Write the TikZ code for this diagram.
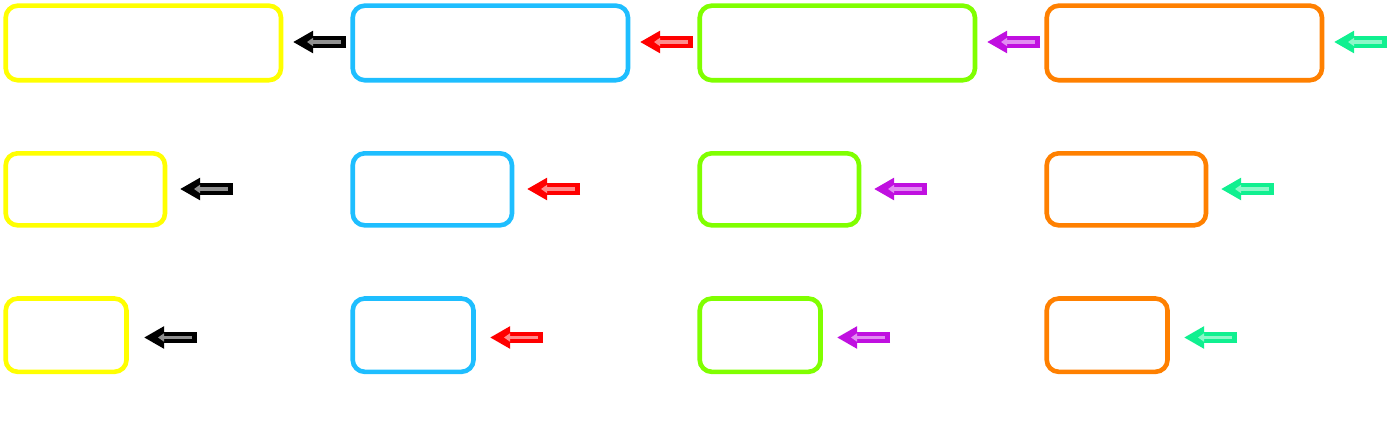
\documentclass[tikz,border=0pt]{standalone}
\usetikzlibrary{arrows.meta,calc}
\definecolor{cyel}{HTML}{FFFF00}
\definecolor{cblu}{HTML}{1EBEFF}
\definecolor{cgrn}{HTML}{80FF00}
\definecolor{corg}{HTML}{FF8000}
\definecolor{ablk}{HTML}{000000}
\definecolor{ablkL}{HTML}{909090}
\definecolor{ared}{HTML}{FF0000}
\definecolor{aredL}{HTML}{FF8C8C}
\definecolor{apur}{HTML}{C010E0}
\definecolor{apurL}{HTML}{E28CF2}
\definecolor{asgr}{HTML}{10F090}
\definecolor{asgrL}{HTML}{8CF8C8}
\tikzset{
  rbox/.style={draw=#1, line width=4.6pt, rounded corners=12pt, inner sep=0pt, outer sep=0pt, anchor=north west},
  arrouter/.style={draw=#1, line width=11.5pt, line cap=butt, -{Triangle[length=20pt, width=21pt]}},
  arrinner/.style={draw=#1, line width=3.2pt, line cap=butt, -{Triangle[length=6pt, width=8pt]}},
}
\newcommand{\myarrow}[4]{% name, tipx, y, color
  \coordinate (#1e) at (#2+53,#3);
  \coordinate (#1t) at (#2,#3);
  \coordinate (#1ie) at (#2+48,#3);
  \coordinate (#1it) at (#2+14,#3);
  \draw[arrouter=#4] (#1e) -- (#1t);
  \draw[arrinner=#4L] (#1ie) -- (#1it);
}
\begin{document}
\begin{tikzpicture}[x=1pt,y=-1pt]
\useasboundingbox (0,0) rectangle (1388,436);
% row 1
\node[rbox=cyel, minimum width=275.3pt, minimum height=74.5pt] (y1) at (5.7,5.7) {};
\node[rbox=cblu, minimum width=275.3pt, minimum height=74.5pt] (b1) at (352.7,5.7) {};
\node[rbox=cgrn, minimum width=275.3pt, minimum height=74.5pt] (g1) at (699.7,5.7) {};
\node[rbox=corg, minimum width=275.3pt, minimum height=74.5pt] (o1) at (1046.7,5.7) {};
% row 2
\node[rbox=cyel, minimum width=159.3pt, minimum height=72pt] (y2) at (5.7,153.3) {};
\node[rbox=cblu, minimum width=159.3pt, minimum height=72pt] (b2) at (352.7,153.3) {};
\node[rbox=cgrn, minimum width=159.3pt, minimum height=72pt] (g2) at (699.7,153.3) {};
\node[rbox=corg, minimum width=159.3pt, minimum height=72pt] (o2) at (1046.7,153.3) {};
% row 3
\node[rbox=cyel, minimum width=120.8pt, minimum height=73.3pt] (y3) at (5.7,298.5) {};
\node[rbox=cblu, minimum width=120.8pt, minimum height=73.3pt] (b3) at (352.7,298.5) {};
\node[rbox=cgrn, minimum width=120.8pt, minimum height=73.3pt] (g3) at (699.7,298.5) {};
\node[rbox=corg, minimum width=120.8pt, minimum height=73.3pt] (o3) at (1046.7,298.5) {};
% arrows
\myarrow{k1}{293}{42}{ablk}
\myarrow{r1}{640}{42}{ared}
\myarrow{p1}{987}{42}{apur}
\myarrow{s1}{1334}{42}{asgr}
\myarrow{k2}{180}{189}{ablk}
\myarrow{r2}{527}{189}{ared}
\myarrow{p2}{874}{189}{apur}
\myarrow{s2}{1221}{189}{asgr}
\myarrow{k3}{144}{337.5}{ablk}
\myarrow{r3}{490}{337.5}{ared}
\myarrow{p3}{837}{337.5}{apur}
\myarrow{s3}{1184}{337.5}{asgr}
\end{tikzpicture}
\end{document}
